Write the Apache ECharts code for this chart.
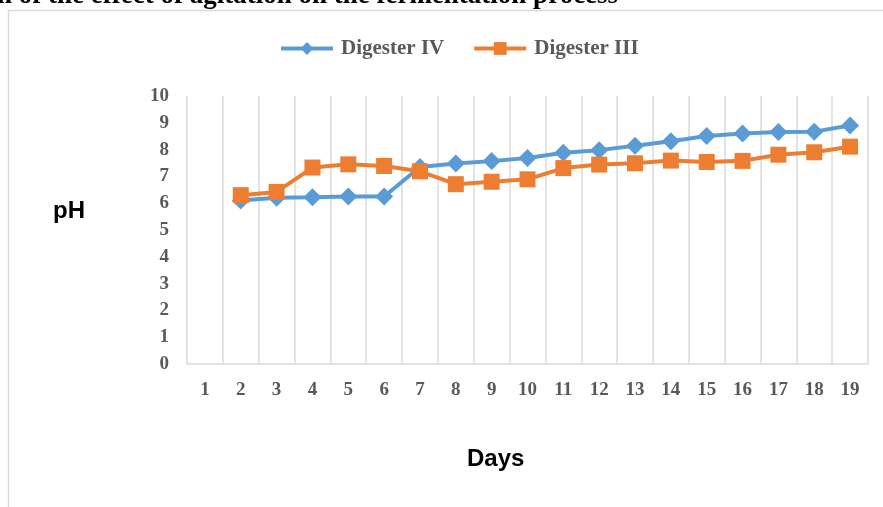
<!DOCTYPE html>
<html>
<head>
<meta charset="utf-8">
<script src="https://cdn.jsdelivr.net/npm/echarts@6/dist/echarts.min.js"></script>
<style>
  html, body { margin: 0; padding: 0; background: #fff; }
  #chart { width: 883px; height: 507px; }
</style>
</head>
<body>
<div id="chart"></div>
<script>
// Days of the fermentation run
const days = ['1', '2', '3', '4', '5', '6', '7', '8', '9', '10', '11', '12', '13', '14', '15', '16', '17', '18', '19'];
// pH readings per day (no reading on day 1)
const digesterIV = [null, 6.1, 6.2, 6.22, 6.25, 6.25, 7.35, 7.48, 7.57, 7.69, 7.88, 7.98, 8.14, 8.31, 8.51, 8.6, 8.66, 8.67, 8.9];
const digesterIII = [null, 6.3, 6.42, 7.33, 7.45, 7.39, 7.19, 6.71, 6.8, 6.89, 7.31, 7.44, 7.49, 7.59, 7.54, 7.58, 7.81, 7.9, 8.11];
// pH axis range
const yMin = 0, yMax = 10, yStep = 1;

const serif = '"Liberation Serif", "Times New Roman", serif';
const sans = '"Liberation Sans", Arial, sans-serif';
const labelGray = '#595959';
const gridGray = '#d9d9d9';

const chart = echarts.init(document.getElementById('chart'), null, { renderer: 'canvas' });
chart.setOption({
  animation: false,
  backgroundColor: '#fff',
  graphic: [
    {
      type: 'rect', silent: true, z: -1,
      shape: { x: 8.5, y: 10.5, width: 1000, height: 600 },
      style: { fill: 'none', stroke: gridGray, lineWidth: 1.5 }
    },
    {
      type: 'text', left: -3, top: -17,
      style: {
        text: 'n of the effect of agitation on the fermentation process',
        font: 'bold 27px ' + serif, fill: '#000'
      }
    },
    {
      type: 'text', left: 53, top: 199,
      style: { text: 'pH', font: 'bold 24px ' + sans, fill: '#000' }
    },
    {
      type: 'text', left: 467, top: 447,
      style: { text: 'Days', font: 'bold 24px ' + sans, fill: '#000' }
    }
  ],
  legend: {
    top: 33,
    left: 274,
    itemWidth: 52,
    itemHeight: 16,
    itemGap: 28,
    lineStyle: { width: 4 },
    textStyle: { fontFamily: serif, fontWeight: 'bold', fontSize: 21, color: labelGray, padding: [0, 0, 0, 3] },
    data: ['Digester IV', 'Digester III']
  },
  grid: { left: 187, right: 15, top: 96, bottom: 143, containLabel: false },
  xAxis: {
    type: 'category',
    data: days,
    boundaryGap: true,
    axisLine: { show: true, lineStyle: { color: gridGray, width: 1.5 } },
    axisTick: { show: false },
    splitLine: { show: true, lineStyle: { color: gridGray, width: 1.5 } },
    axisLabel: {
      margin: 17, fontFamily: serif, fontWeight: 'bold', fontSize: 19, color: labelGray, interval: 0
    }
  },
  yAxis: {
    type: 'value',
    min: yMin, max: yMax, interval: yStep,
    axisLine: { show: false },
    axisTick: { show: false },
    splitLine: { show: false },
    axisLabel: {
      margin: 18, fontFamily: serif, fontWeight: 'bold', fontSize: 19, color: labelGray
    }
  },
  series: [
    {
      name: 'Digester IV',
      type: 'line',
      data: digesterIV,
      color: '#5B9BD5',
      symbol: 'diamond',
      symbolSize: [18, 18],
      lineStyle: { width: 4, color: '#5B9BD5' },
      itemStyle: { color: '#5B9BD5' },
      z: 2
    },
    {
      name: 'Digester III',
      type: 'line',
      data: digesterIII,
      color: '#ED7D31',
      symbol: 'rect',
      symbolSize: 16,
      lineStyle: { width: 4, color: '#ED7D31' },
      itemStyle: { color: '#ED7D31' },
      z: 3
    }
  ]
});
</script>
</body>
</html>
